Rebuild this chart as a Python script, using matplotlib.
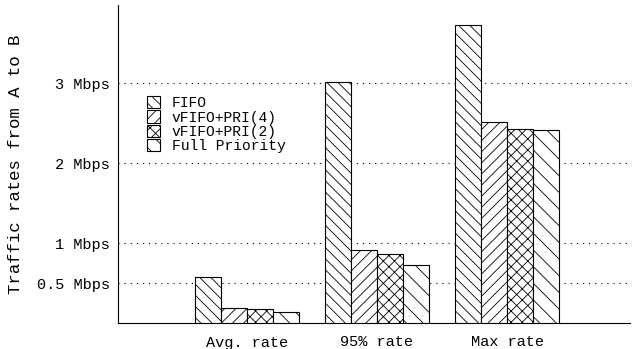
import numpy as np
import matplotlib
matplotlib.use("Agg")
import matplotlib.pyplot as plt

plt.rcParams['font.family'] = ['Liberation Mono', 'DejaVu Sans Mono']
plt.rcParams['hatch.linewidth'] = 0.6

groups = ['Avg. rate', '95% rate', 'Max rate']
series = ['FIFO', 'vFIFO+PRI(4)', 'vFIFO+PRI(2)', 'Full Priority']
fifo = [0.575, 3.01, 3.72]
pri4 = [0.19, 0.91, 2.51]
pri2 = [0.175, 0.86, 2.425]
full = [0.14, 0.725, 2.41]
hatches = ['\\\\\\', '///', 'xxx', '\\\\']

yticks = [0.5, 1, 2, 3]
ytick_labels = ['0.5 Mbps', '1 Mbps', '2 Mbps', '3 Mbps']

fig = plt.figure(figsize=(6.33, 3.49), dpi=100)
ax = fig.add_axes([118/633, 26/349, 512/633, 318/349])

x = np.arange(len(groups))
w = 0.2
for i, (vals, h, name) in enumerate(zip([fifo, pri4, pri2, full], hatches, series)):
    ax.bar(x + (i - 1.5) * w, vals, w, facecolor='white', edgecolor='black',
           hatch=h, linewidth=0.8, label=name, zorder=3)

ax.set_xlim(-0.992, 2.946)
ax.set_ylim(0, 3.975)
ax.set_xticks(x)
ax.set_xticklabels(groups, fontsize=11)
ax.set_yticks(yticks)
ax.set_yticklabels(ytick_labels, fontsize=11)
ax.tick_params(axis='y', length=0, pad=6)
ax.tick_params(axis='x', length=0, pad=9)
ax.yaxis.grid(True, linestyle=(0, (1, 4.5)), color='black', linewidth=0.8, zorder=0)
ax.set_ylabel('Traffic rates from A to B', fontsize=12.5, labelpad=10)
for s in ['top', 'right']:
    ax.spines[s].set_visible(False)

ax.legend(loc='upper left', bbox_to_anchor=(0.045, 0.731), frameon=False,
          fontsize=10.5, handlelength=0.9, handleheight=0.9, handletextpad=0.8,
          labelspacing=0.0, borderaxespad=0)

fig.savefig('out.png', dpi=100)
